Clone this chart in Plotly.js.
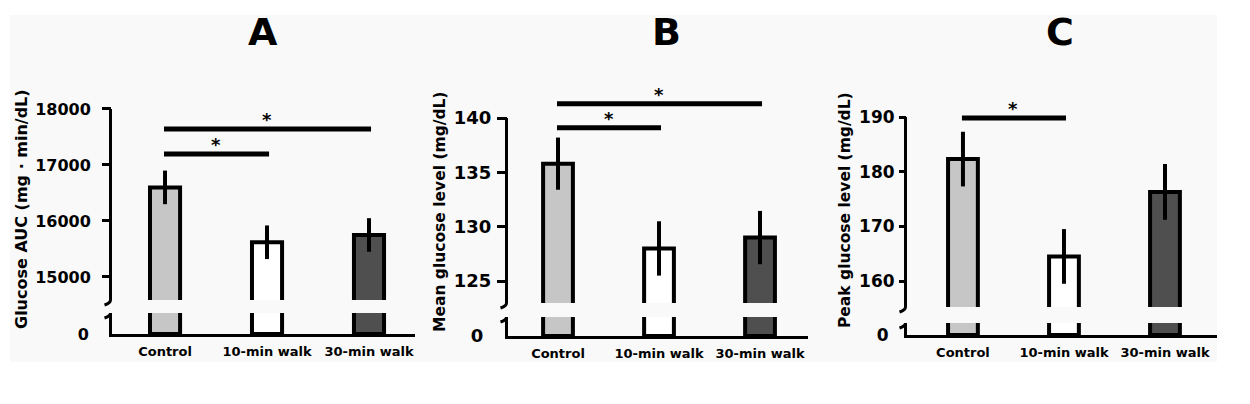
<!DOCTYPE html>
<html><head><meta charset="utf-8">
<script src="https://cdn.plot.ly/plotly-3.0.1.min.js"></script>
<style>html,body{margin:0;padding:0;background:#fff}</style>
</head><body><div id="chart" style="width:1250px;height:404px"></div>
<script>
// ---------- data ----------
const categories = ['Control', '10-min walk', '30-min walk'];
const barColors = ['#c6c6c6', '#ffffff', '#4f4f4f'];

const aucMean = [16600, 15620, 15750];
const aucSE = [300, 300, 300];
const meanGlucose = [135.8, 128.0, 129.0];
const meanSE = [2.4, 2.5, 2.45];
const peakGlucose = [182.3, 164.5, 176.3];
const peakSE = [5.0, 5.0, 5.1];

const panelLetters = ['A', 'B', 'C'];
const yTitles = ['Glucose AUC (mg · min/dL)', 'Mean glucose level (mg/dL)', 'Peak glucose level (mg/dL)'];
const yTicksA = [15000, 16000, 17000, 18000];
const yTicksB = [125, 130, 135, 140];
const yTicksC = [160, 170, 180, 190];

// significance comparisons: [from, to] category index and bracket level
const sigPairsA = [[0, 1], [0, 2]];
const sigYA = [17196, 17643];
const sigPairsB = [[0, 1], [0, 2]];
const sigYB = [139.1, 141.3];
const sigPairsC = [[0, 1]];
const sigYC = [189.8];

// ---------- layout helpers ----------
const W = 1250, H = 404;
const px = x => x / W;
const py = y => (H - y) / H;
const FONT = 'DejaVu Sans, Arial, sans-serif';

const panels = [
  {mean: aucMean, se: aucSE, ticks: yTicksA, pairs: sigPairsA, sigY: sigYA,
   xPx: [112, 415], xRange: [-0.52, 2.451], upperPx: [300, 105], upperRange: [14589, 18071],
   lowerPx: [334, 313], tickFont: 16, ticklen: 9, standoff: 8, zeroStandoff: 17,
   titleX: 21, titleY: 209, titleFont: 16, letterX: 263},
  {mean: meanGlucose, se: meanSE, ticks: yTicksB, pairs: sigPairsB, sigY: sigYB,
   xPx: [508, 808], xRange: [-0.495, 2.475], upperPx: [303, 98], upperRange: [122.98, 141.84],
   lowerPx: [336, 317], tickFont: 18, ticklen: 10, standoff: 2, zeroStandoff: 18,
   titleX: 440, titleY: 212, titleFont: 15.5, letterX: 666},
  {mean: peakGlucose, se: peakSE, ticks: yTicksC, pairs: sigPairsC, sigY: sigYC,
   xPx: [907, 1217], xRange: [-0.554, 2.515], upperPx: [307, 110], upperRange: [155.25, 191.28],
   lowerPx: [335, 323], tickFont: 17, ticklen: 7, standoff: 1, zeroStandoff: 12,
   titleX: 845, titleY: 210, titleFont: 15.5, letterX: 1060}
];

const traces = [];
const layout = {
  width: W, height: H,
  margin: {l: 0, r: 0, t: 0, b: 0},
  paper_bgcolor: '#ffffff',
  plot_bgcolor: 'rgba(0,0,0,0)',
  showlegend: false,
  font: {family: FONT, color: '#000', weight: 700},
  shapes: [{type: 'rect', xref: 'paper', yref: 'paper', x0: px(10), x1: px(1217), y0: py(362), y1: py(15),
            fillcolor: '#f9f9f9', line: {width: 0}, layer: 'below'}],
  annotations: []
};

panels.forEach((p, i) => {
  const xid = i === 0 ? 'x' : 'x' + (i + 1);
  const yU = (2 * i + 1) === 1 ? 'y' : 'y' + (2 * i + 1);
  const yL = 'y' + (2 * i + 2);
  const xKey = i === 0 ? 'xaxis' : 'xaxis' + (i + 1);
  const yUKey = yU === 'y' ? 'yaxis' : 'yaxis' + (2 * i + 1);
  const yLKey = 'yaxis' + (2 * i + 2);

  const barBase = {type: 'bar', x: categories, y: p.mean, xaxis: xid, width: 0.295,
    marker: {color: barColors, line: {color: '#000', width: 4}}, hoverinfo: 'skip'};
  traces.push(Object.assign({}, barBase, {yaxis: yU,
    error_y: {type: 'data', array: p.se, visible: true, color: '#000', thickness: 4, width: 0}}));
  traces.push(Object.assign({}, barBase, {yaxis: yL}));

  layout[xKey] = {domain: [px(p.xPx[0]), px(p.xPx[1])], range: p.xRange, type: 'category',
    anchor: yL, showline: true, linewidth: 3, linecolor: '#000', ticks: '',
    tickfont: {family: FONT, size: 13, weight: 700, color: '#000'}, ticklabelstandoff: 3,
    showgrid: false, zeroline: false, fixedrange: true};
  layout[yUKey] = {domain: [py(p.upperPx[0]), py(p.upperPx[1])], range: p.upperRange, anchor: xid,
    showline: false, ticks: 'outside', ticklen: p.ticklen, tickwidth: 3, tickcolor: '#000',
    tickvals: p.ticks, ticktext: p.ticks.map(String),
    tickfont: {family: FONT, size: p.tickFont, weight: 700, color: '#000'}, ticklabelstandoff: p.standoff,
    showgrid: false, zeroline: false, fixedrange: true};
  layout[yLKey] = {domain: [py(p.lowerPx[0]), py(p.lowerPx[1])], range: [0, 1], anchor: xid,
    showline: true, linewidth: 3, linecolor: '#000', ticks: '', tickvals: [0], ticktext: ['0'],
    tickfont: {family: FONT, size: p.tickFont, weight: 700, color: '#000'}, ticklabelstandoff: p.zeroStandoff,
    showgrid: false, zeroline: false, fixedrange: true};

  const xw = p.xPx[1] - p.xPx[0];
  // upper axis line (from bottom of the broken segment to the top tick)
  layout.shapes.push({type: 'line', xref: xid + ' domain', yref: yU, x0: -1.5 / xw, x1: -1.5 / xw,
    y0: p.upperRange[0], y1: p.ticks[p.ticks.length - 1], line: {color: '#000', width: 3}});
  // axis-break hooks
  const ax = px(p.xPx[0]) - 1.5 / W;
  const dx = 1 / W, dy = 1 / H;
  [py(p.upperPx[0]), py(p.lowerPx[1])].forEach(yb => {
    layout.shapes.push({type: 'path', xref: 'paper', yref: 'paper',
      path: `M${ax},${yb} Q${ax},${yb - 3 * dy} ${ax - 6 * dx},${yb - 5 * dy}`,
      line: {color: '#000', width: 3}});
  });
  // significance brackets and stars
  p.pairs.forEach((pr, k) => {
    layout.shapes.push({type: 'line', xref: xid, yref: yU, x0: pr[0] - 0.01, x1: pr[1] + 0.02,
      y0: p.sigY[k], y1: p.sigY[k], line: {color: '#000', width: 5}});
    layout.annotations.push({xref: xid, yref: yU, x: (pr[0] + pr[1]) / 2, y: p.sigY[k], text: '*',
      showarrow: false, xanchor: 'center', yanchor: 'bottom', yshift: -3,
      font: {family: FONT, size: 18, weight: 700, color: '#000'}});
  });
  // y-axis title
  layout.annotations.push({xref: 'paper', yref: 'paper', x: px(p.titleX), y: py(p.titleY), text: yTitles[i],
    textangle: -90, showarrow: false, xanchor: 'center', yanchor: 'middle',
    font: {family: FONT, size: p.titleFont, weight: 700, color: '#000'}});
  // panel letter
  layout.annotations.push({xref: 'paper', yref: 'paper', x: px(p.letterX), y: py(32), text: panelLetters[i],
    showarrow: false, xanchor: 'center', yanchor: 'middle',
    font: {family: FONT, size: 38, weight: 700, color: '#000'}});
});

Plotly.newPlot('chart', traces, layout, {staticPlot: true, displayModeBar: false});
</script></body></html>
